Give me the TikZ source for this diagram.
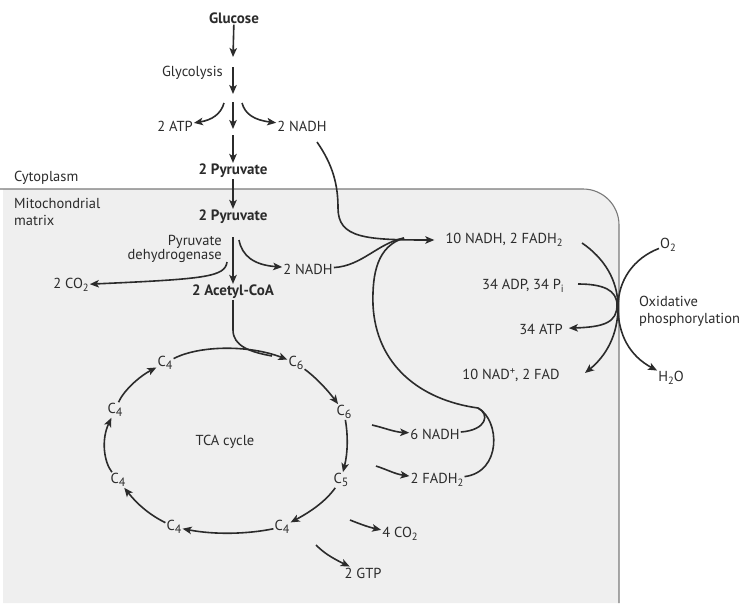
\documentclass[tikz,border=0pt]{standalone}
\usepackage{fontspec}
\setmainfont{PT Sans}
\usetikzlibrary{arrows.meta}
\definecolor{ink}{HTML}{2B2B2B}
\definecolor{matfill}{HTML}{EFEFEF}
\definecolor{edge}{HTML}{7A7A7A}
\newcommand{\subx}[1]{\raisebox{-0.45ex}{\fontsize{10.5}{11}\selectfont #1}}
\newcommand{\subc}[1]{\raisebox{-0.4ex}{\fontsize{12}{12}\selectfont #1}}
\newcommand{\supx}[1]{\raisebox{0.75ex}{\fontsize{10.5}{11}\selectfont #1}}
\begin{document}
\begin{tikzpicture}[x=1pt,y=-1pt,
  lbl/.style={text=ink, font=\fontsize{14.5}{16}\selectfont, inner sep=1pt},
  bld/.style={text=ink, font=\fontsize{15}{17}\selectfont\bfseries, inner sep=1pt},
  arr/.style={draw=ink, line width=1.6pt, -{Stealth[length=9pt,width=7.5pt,inset=2.2pt]}},
  ln/.style={draw=ink, line width=1.6pt},
]
\useasboundingbox (0,0) rectangle (752,605);
% mitochondrial matrix region
\fill[matfill] (3,603) -- (3,189) [rounded corners=36pt] -- (619,189) [sharp corners] -- (619,603) -- cycle;
\draw[edge, line width=1.1pt] (0,189) [rounded corners=36pt] -- (619,189) [sharp corners] -- (619,603);

% labels
\node[bld] (glucose) at (234,18) {Glucose};
\node[lbl, anchor=east] (glyc) at (224,73) {Glycolysis};
\node[lbl] (atp2) at (175,126) {2 ATP};
\node[lbl] (nadh1) at (302,126) {2 NADH};
\node[bld] (pyr1) at (233,171) {2 Pyruvate};
\node[lbl, anchor=west] (cyto) at (13,178) {Cytoplasm};
\node[lbl, anchor=west, align=left] (mito) at (13,212) {Mitochondrial\\[1pt]matrix};
\node[bld] (pyr2) at (233,217) {2 Pyruvate};
\node[lbl, anchor=east, align=right] (pdh) at (223,249) {Pyruvate\\[-2pt]dehydrogenase};
\node[lbl] (nadh2) at (308,269) {2 NADH};
\node[lbl] (co2a) at (71,285) {2 CO\subx{2}};
\node[bld] (acoa) at (233,292) {2 Acetyl-CoA};

\node[lbl] (c4t) at (165,363) {C\subc{4}};
\node[lbl] (c6a) at (296,363) {C\subc{6}};
\node[lbl] (c6b) at (344,412) {C\subc{6}};
\node[lbl] (c5) at (341,480) {C\subc{5}};
\node[lbl] (c4br) at (282,527) {C\subc{4}};
\node[lbl] (c4bl) at (174,527) {C\subc{4}};
\node[lbl] (c4lb) at (118,480) {C\subc{4}};
\node[lbl] (c4lt) at (115,410) {C\subc{4}};
\node[lbl] (tca) at (225,442) {TCA cycle};

\node[lbl] (nadh6) at (435,434) {6 NADH};
\node[lbl] (fadh2) at (437,480) {2 FADH\subx{2}};
\node[lbl] (co2b) at (400,534) {4 CO\subx{2}};
\node[lbl] (gtp) at (363,573) {2 GTP};

\node[lbl] (nadh10) at (504,240) {10 NADH, 2 FADH\subx{2}};
\node[lbl] (adp) at (523,286) {34 ADP, 34 P\subx{i}};
\node[lbl] (atp34) at (541,329) {34 ATP};
\node[lbl] (nad10) at (511,375) {10 NAD\supx{+}, 2 FAD};
\node[lbl] (o2) at (668,245) {O\subx{2}};
\node[lbl, anchor=west, align=left] (oxp) at (638,311) {Oxidative\\[1pt]phosphorylation};
\node[lbl] (h2o) at (671,378) {H\subx{2}O};

% glycolysis arrows
\coordinate (g1) at (233,57);
\coordinate (g2a) at (233,67);
\coordinate (g2b) at (233,94);
\coordinate (g3a) at (233,102);
\coordinate (g3b) at (233,129);
\coordinate (g4a) at (233,135);
\coordinate (sl) at (224,103);
\coordinate (sr) at (242,103);
\draw[arr] (glucose) -- (g1);
\draw[arr] (g2a) -- (g2b);
\draw[arr] (g3a) -- (g3b);
\draw[arr] (g4a) -- (pyr1);
\draw[arr] (sl) .. controls (221,114) and (212,120) .. (atp2);
\draw[arr] (sr) .. controls (245,114) and (254,120) .. (nadh1);
\draw[arr] (pyr1) -- (pyr2);

% pyruvate dehydrogenase
\coordinate (p2s) at (233,237);
\coordinate (p2r) at (239,240);
\coordinate (p2l) at (227,262);
\draw[arr] (p2s) -- (acoa);
\draw[arr] (p2r) .. controls (242,256) and (254,265) .. (nadh2);
\draw[arr] (p2l) .. controls (225,277) and (205,279) .. (co2a);

% NADH collection
\coordinate (n1s) at (317,142);
\coordinate (jn) at (404,238);
\coordinate (jb) at (478,408);
\draw[arr, shorten >=10pt] (n1s) .. controls (333,165) and (338,185) .. (338,208) .. controls (338,238) and (365,240) .. (nadh10);
\draw[ln] (nadh2) .. controls (362,266) and (378,243) .. (jn);
\draw[ln] (jn) .. controls (378,246) and (372,272) .. (373,305) .. controls (376,365) and (420,400) .. (jb);
\draw[ln] (jb) .. controls (490,414) and (487,430) .. (nadh6);
\draw[ln] (jb) .. controls (500,420) and (502,472) .. (fadh2);

% TCA cycle
\coordinate (ac1) at (233,330);
\coordinate (ac2) at (272,356);
\draw[ln] (acoa) -- (ac1) .. controls (233,346) and (250,352) .. (ac2);
\draw[arr] (c4t) .. controls (200,345) and (250,345) .. (c6a);
\draw[arr] (c6a) .. controls (314,376) and (326,388) .. (c6b);
\draw[arr] (c6b) .. controls (348,435) and (348,452) .. (c5);
\draw[arr] (c5) .. controls (325,502) and (310,512) .. (c4br);
\draw[arr] (c4br) .. controls (248,534) and (215,535) .. (c4bl);
\draw[arr] (c4bl) .. controls (150,515) and (138,505) .. (c4lb);
\draw[arr] (c4lb) .. controls (104,462) and (101,440) .. (c4lt);
\draw[arr] (c4lt) .. controls (124,390) and (140,376) .. (c4t);

% TCA products
\coordinate (t1) at (372,425);
\coordinate (t2) at (376,466);
\coordinate (t3) at (350,520);
\coordinate (t4) at (316,545);
\draw[arr] (t1) .. controls (385,428) and (394,432) .. (nadh6);
\draw[arr] (t2) .. controls (388,470) and (395,474) .. (fadh2);
\draw[arr] (t3) .. controls (360,524) and (368,527) .. (co2b);
\draw[arr] (t4) .. controls (323,552) and (330,557) .. (gtp);

% oxidative phosphorylation
\coordinate (ox) at (618,307);
\coordinate (oxa) at (582,243);
\coordinate (oxe) at (585,373);
\coordinate (adps) at (578,284);
\draw[arr] (oxa) .. controls (604,258) and (618,280) .. (ox) .. controls (618,335) and (606,356) .. (oxe);
\draw[arr] (o2) .. controls (634,258) and (618,280) .. (ox) .. controls (618,335) and (630,356) .. (h2o);
\draw[arr, shorten >=5pt] (adps) .. controls (603,284) and (617,290) .. (617,305) .. controls (617,322) and (605,327) .. (atp34);
\end{tikzpicture}
\end{document}
